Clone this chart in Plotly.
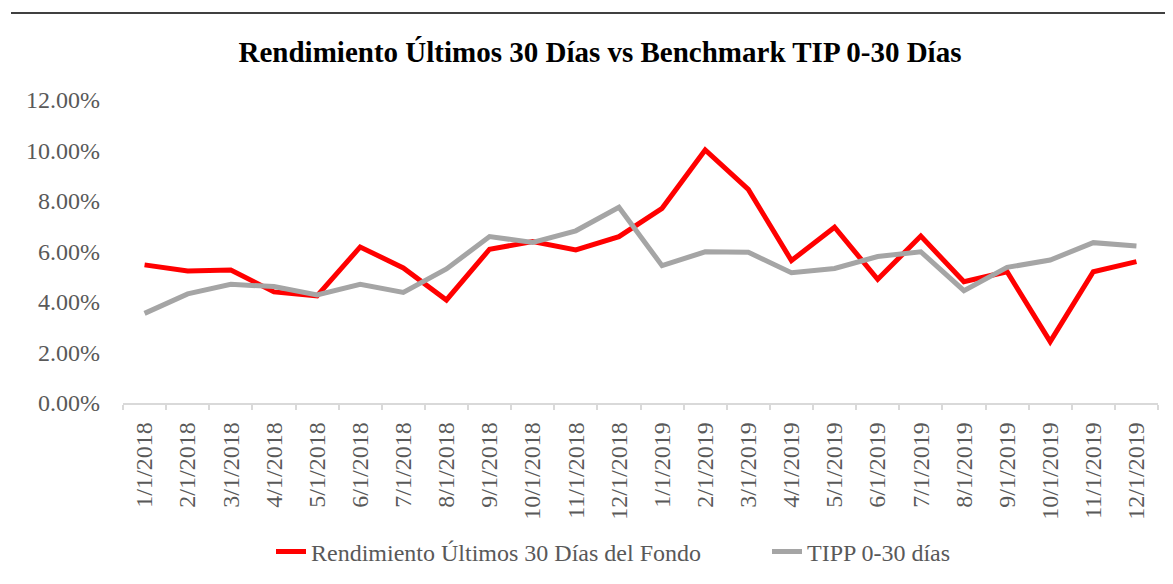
import plotly.graph_objects as go

categories = ["1/1/2018", "2/1/2018", "3/1/2018", "4/1/2018", "5/1/2018", "6/1/2018",
              "7/1/2018", "8/1/2018", "9/1/2018", "10/1/2018", "11/1/2018", "12/1/2018",
              "1/1/2019", "2/1/2019", "3/1/2019", "4/1/2019", "5/1/2019", "6/1/2019",
              "7/1/2019", "8/1/2019", "9/1/2019", "10/1/2019", "11/1/2019", "12/1/2019"]

fondo = [5.47, 5.23, 5.27, 4.40, 4.24, 6.18, 5.35, 4.08, 6.09, 6.39, 6.06, 6.59,
         7.71, 10.02, 8.46, 5.64, 6.96, 4.90, 6.61, 4.80, 5.20, 2.43, 5.20, 5.60]

tipp = [3.55, 4.32, 4.70, 4.61, 4.28, 4.70, 4.38, 5.31, 6.59, 6.36, 6.82, 7.75,
        5.44, 5.99, 5.97, 5.16, 5.33, 5.80, 5.99, 4.45, 5.37, 5.66, 6.35, 6.22]

y_ticks = [0, 2, 4, 6, 8, 10, 12]

FONT = "Liberation Serif"
OFF = 8  # page body margin
W, H = 1173 - OFF, 584 - OFF
# plot area in page coordinates
PX0, PX1, PY0, PY1 = 123, 1158, 100, 403
L, T = PX0 - OFF, PY0 - OFF
R, B = W - (PX1 - OFF), H - (PY1 - OFF)
pw, ph = PX1 - PX0, PY1 - PY0

def px(x):
    return (x - PX0) / pw

def py(y):
    return (PY1 - y) / ph

fig = go.Figure()
fig.add_trace(go.Scatter(x=categories, y=[v / 100 for v in fondo], mode="lines",
                         name="Rendimiento Últimos 30 Días del Fondo", legend="legend",
                         line=dict(color="#FF0000", width=5)))
fig.add_trace(go.Scatter(x=categories, y=[v / 100 for v in tipp], mode="lines",
                         name="TIPP 0-30 días", legend="legend2",
                         line=dict(color="#A5A5A5", width=5)))

legend_common = dict(orientation="h", xanchor="left", yanchor="middle",
                     bgcolor="rgba(0,0,0,0)",
                     font=dict(family=FONT, size=24, color="#595959"))

fig.update_layout(
    width=W, height=H,
    margin=dict(l=L, r=R, t=T, b=B, autoexpand=False),
    paper_bgcolor="white", plot_bgcolor="white",
    font=dict(family=FONT, color="#595959", size=24),
    title=dict(text="<b>Rendimiento Últimos 30 Días vs Benchmark TIP 0-30 Días</b>",
               x=(600 - OFF) / W, xanchor="center", xref="container",
               y=1 - (52 - OFF) / H, yanchor="middle", yref="container",
               font=dict(family=FONT, size=29, color="black")),
    xaxis=dict(type="category", range=[-0.5, len(categories) - 0.5],
               showgrid=False, showline=True, linecolor="#D9D9D9",
               linewidth=1.5, ticks="outside", tickson="boundaries", ticklen=5,
               tickcolor="#D9D9D9", tickwidth=1.5, tickangle=-90, ticklabelstandoff=8,
               tickfont=dict(family=FONT, size=24, color="#595959")),
    yaxis=dict(range=[0, 0.12], tickvals=[v / 100 for v in y_ticks],
               ticktext=[f"{v:.2f}%" for v in y_ticks], showgrid=False,
               zeroline=False, showline=False, ticks="", ticklabelstandoff=22,
               tickfont=dict(family=FONT, size=24, color="#595959")),
    legend=dict(x=px(271), y=py(552), **legend_common),
    legend2=dict(x=px(767), y=py(552), **legend_common),
    showlegend=True,
    shapes=[dict(type="line", xref="paper", yref="paper",
                 x0=px(11), x1=px(1173), y0=py(13), y1=py(13),
                 line=dict(color="black", width=1.5))],
)

fig.write_html("out.html")
